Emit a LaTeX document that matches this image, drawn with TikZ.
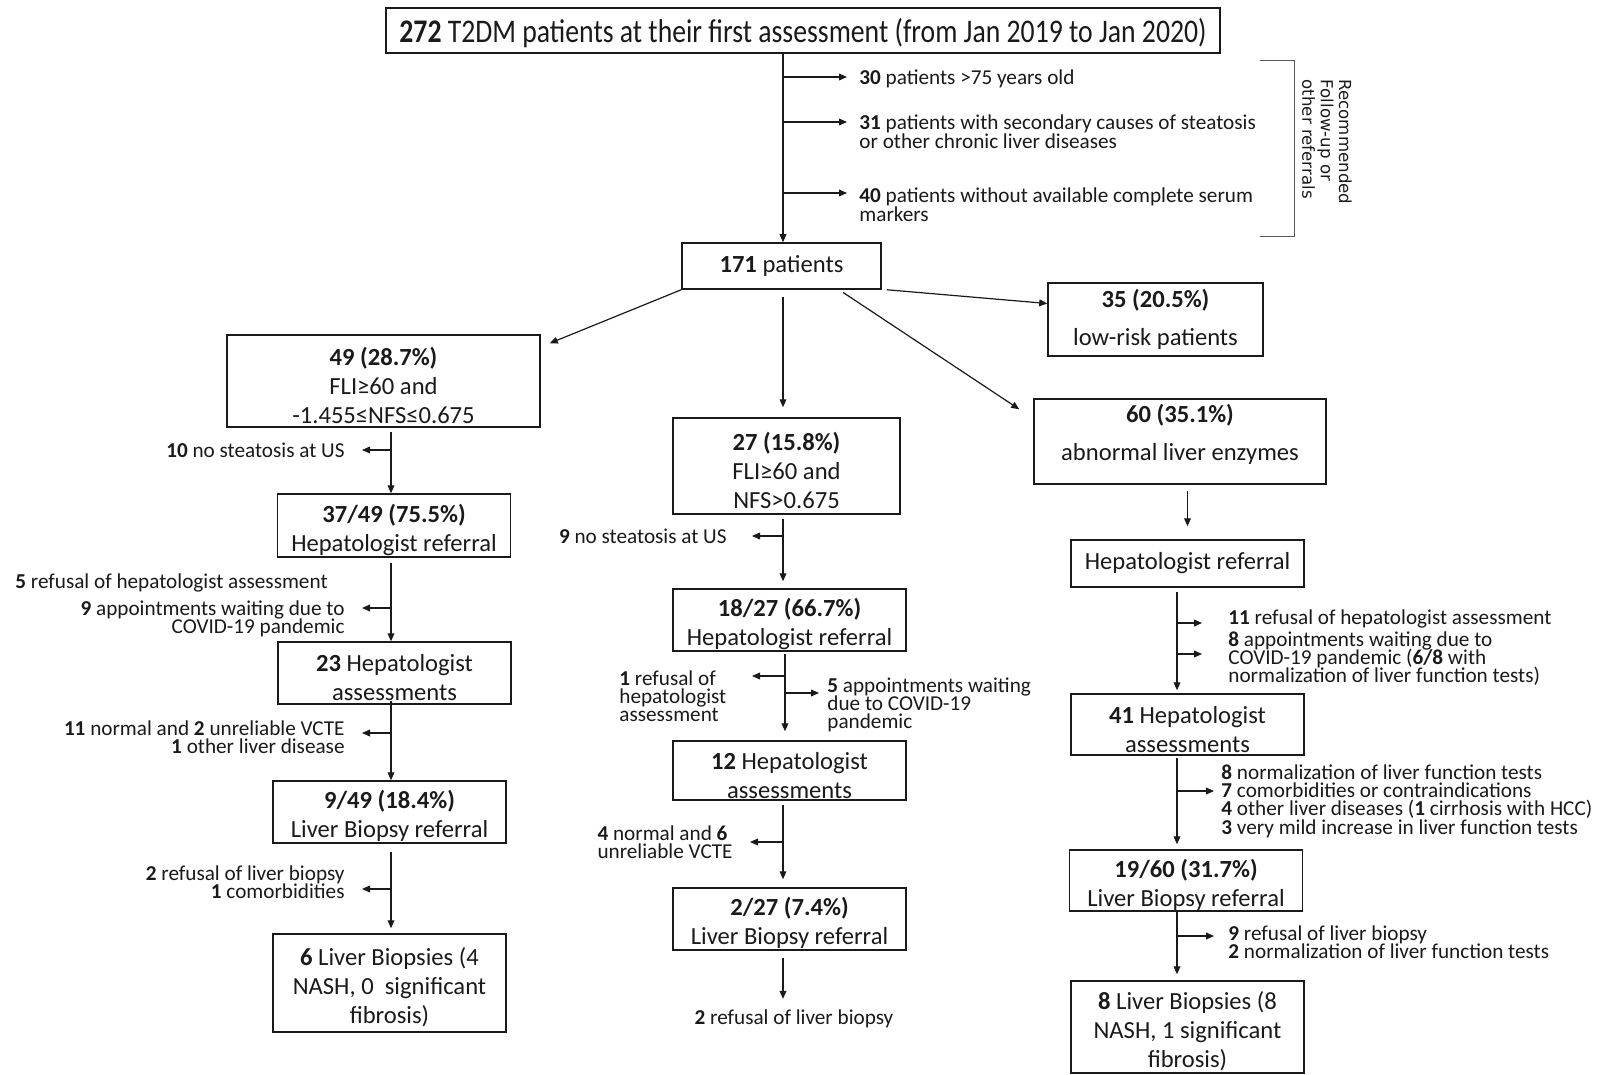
\documentclass[tikz,border=0pt]{standalone}
\usepackage{fontspec}
\setmainfont{Carlito}
\newfontfamily\topfont{Carlito}[FakeStretch=0.84]
\newfontfamily\rotfont{DejaVu Sans}
\usetikzlibrary{arrows.meta,calc}
\definecolor{ink}{HTML}{1A1A1A}
\newcommand{\upstrut}{\rule{0pt}{13.3pt}}
\tikzset{
 box/.style={draw=ink, line width=0.75pt, inner sep=0pt, align=center, font=\fontsize{12.3}{14.5}\selectfont, text=ink},
 wbox/.style={box, font=\fontsize{12.3}{19}\selectfont},
 side/.style={inner sep=0pt, font={\fontsize{10.6}{9.2}\selectfont\lineskiplimit=-100pt}, text=ink},
 arr/.style={draw=ink, line width=0.6pt, -{Triangle[length=4pt,width=3.4pt]}},
 bw/.style={minimum width=116.5pt},
}
\begin{document}
\begin{tikzpicture}[x=0.5pt,y=-0.5pt]
\useasboundingbox[fill=white] (0,0) rectangle (1600,1075);
% boxes
\node[box, minimum width=417pt, minimum height=22.5pt, font=\topfont\fontsize{16.5}{18}\selectfont] (top) at (803,30.5) {\rule{0pt}{14.4pt}\textbf{272} T2DM patients at their first assessment (from Jan 2019 to Jan 2020)};
\node[box, minimum width=99.5pt, minimum height=23pt] (p171) at (781.5,266) {\textbf{171} patients};
\node[wbox, minimum width=107.5pt, minimum height=36.5pt] (b35) at (1155.5,319.5) {\textbf{35 (20.5\%)}\\low-risk patients};
\node[wbox, minimum width=146pt, minimum height=42.5pt] (b60) at (1180,441.5) {\textbf{60 (35.1\%)}\\abnormal liver enzymes\rule[-9.5pt]{0pt}{0pt}};
\node[box, minimum width=156.5pt, minimum height=46pt] (b49) at (383.5,381) {\upstrut\textbf{49 (28.7\%)}\\FLI≥60 and\\-1.455≤NFS≤0.675};
\node[box, minimum width=113.5pt, minimum height=48pt] (b27) at (786.5,466) {\upstrut\textbf{27 (15.8\%)}\\FLI≥60 and\\NFS>0.675};
% left column
\node[box, bw, minimum height=31.5pt] (b37) at (394,525.5) {\upstrut\textbf{37/49 (75.5\%)}\\Hepatologist referral};
\node[box, bw, minimum height=31pt] (b23) at (394.5,673) {\upstrut\textbf{23} Hepatologist\\assessments};
\node[box, bw, minimum height=31pt] (b9) at (389.5,812) {\upstrut\textbf{9/49 (18.4\%)}\\Liver Biopsy referral};
\node[box, bw, minimum height=49pt] (b6) at (389.5,983) {\upstrut\textbf{6} Liver Biopsies (4\\NASH, 0~ significant\\fibrosis)};
% middle column
\node[box, bw, minimum height=31pt] (b18) at (789.5,620) {\upstrut\textbf{18/27 (66.7\%)}\\Hepatologist referral};
\node[box, bw, minimum height=29.5pt] (b12) at (789.5,770.5) {\upstrut\textbf{12} Hepatologist\\assessments};
\node[box, bw, minimum height=31pt] (b2) at (789.5,919) {\upstrut\textbf{2/27 (7.4\%)}\\Liver Biopsy referral};
% right column
\node[box, bw, minimum height=23.5pt] (bHR) at (1187.5,563.5) {Hepatologist referral};
\node[box, bw, minimum height=30.5pt] (b41) at (1187.5,724.5) {\upstrut\textbf{41} Hepatologist\\assessments};
\node[box, bw, minimum height=30.5pt] (b19) at (1186,880.5) {\upstrut\textbf{19/60 (31.7\%)}\\Liver Biopsy referral};
\node[box, bw, minimum height=46pt] (b8) at (1187.5,1027) {\upstrut\textbf{8} Liver Biopsies (8\\NASH, 1 significant\\fibrosis)};
% side texts (base anchor = baseline of the last line)
\node[side, anchor=base west, align=left] (t30) at (859,85) {\textbf{30} patients >75 years old};
\node[side, anchor=base west, align=left] (t31) at (859,148.4) {\textbf{31} patients with secondary causes of steatosis\\or other chronic liver diseases};
\node[side, anchor=base west, align=left] (t40) at (859,221.4) {\textbf{40} patients without available complete serum\\markers};
\node[side, anchor=base east, align=right] (t10) at (345,457) {\textbf{10} no steatosis at US};
\node[side, anchor=base west, align=left] (t5) at (15,588) {\textbf{5} refusal of hepatologist assessment};
\node[side, anchor=base east, align=right] (t9) at (345,633.4) {\textbf{9} appointments waiting due to\\COVID-19 pandemic};
\node[side, anchor=base east, align=right] (t11) at (345,753.4) {\textbf{11} normal and \textbf{2} unreliable VCTE\\\textbf{1} other liver disease};
\node[side, anchor=base east, align=right] (t2l) at (345,898.4) {\textbf{2} refusal of liver biopsy\\\textbf{1} comorbidities};
\node[side, anchor=base east, align=right] (t9m) at (727,543) {\textbf{9} no steatosis at US};
\node[side, anchor=base west, align=left] (t1) at (619,721.8) {\textbf{1} refusal of\\hepatologist\\assessment};
\node[side, anchor=base west, align=left] (t5m) at (827,728.8) {\textbf{5} appointments waiting\\due to COVID-19\\pandemic};
\node[side, anchor=base east, align=left] (t4) at (733,858.4) {\textbf{4} normal and \textbf{6}\\unreliable VCTE};
\node[side, anchor=base] (t2m) at (794,1024) {\textbf{2} refusal of liver biopsy};
\node[side, anchor=base west, align=left] (t11r) at (1228,624) {\textbf{11} refusal of hepatologist assessment};
\node[side, anchor=base west, align=left] (t8a) at (1228,682.8) {\textbf{8} appointments waiting due to\\COVID-19 pandemic (\textbf{6/8} with\\normalization of liver function tests)};
\node[side, anchor=base west, align=left] (t8b) at (1221,834.2) {\textbf{8} normalization of liver function tests\\\textbf{7} comorbidities or contraindications\\\textbf{4} other liver diseases (\textbf{1} cirrhosis with HCC)\\\textbf{3} very mild increase in liver function tests};
\node[side, anchor=base west, align=left] (t9r) at (1228,958.4) {\textbf{9} refusal of liver biopsy\\\textbf{2} normalization of liver function tests};
\node[rotate=-90, align=left, inner sep=0pt, text=ink, font=\rotfont\fontsize{8.3}{9.2}\selectfont] (rec) at (1327,142) {Recommended\\Follow-up or\\other referrals};
\draw[gray!70!black, line width=0.5pt] (1260,61) -- (1294,61) -- (1294,237) -- (1260,237);
% line x positions and arrow tips
\coordinate (lx) at (391,0);
\coordinate (mx) at (783,0);
\coordinate (mx2) at (785,0);
\coordinate (rx) at (1177,0);
\coordinate (c30) at (847,77);
\coordinate (c31) at (847,122);
\coordinate (c40) at (847,193);
\coordinate (a10) at (362,450);
\coordinate (a9) at (362,608);
\coordinate (a11) at (362,733);
\coordinate (a2) at (362,889);
\coordinate (a9m) at (752,536);
\coordinate (a1) at (752,676);
\coordinate (a5) at (819,693);
\coordinate (a4) at (750,842);
\coordinate (ar1) at (1202,623);
\coordinate (ar2) at (1202,654);
\coordinate (ar3) at (1214,791);
\coordinate (ar4) at (1214,936);
% top
\draw[arr] (top.south -| mx) -- (p171.north -| mx);
\draw[arr] (c30 -| mx) -- (c30);
\draw[arr] (c31 -| mx) -- (c31);
\draw[arr] (c40 -| mx) -- (c40);
% from 171
\draw[arr] (p171.south west) -- ([xshift=4.5pt,yshift=-4.5pt]b49.north east);
\draw[arr, shorten <=3.5pt, shorten >=5pt] (p171.south -| mx) -- (b27.north -| mx);
\draw[arr, shorten <=2.5pt] ([xshift=28.75pt]p171.south) -- ([xshift=-7pt,yshift=-5.5pt]b60.north west);
\draw[arr] ([xshift=2.5pt]p171.south east) -- ([yshift=8pt]b35.west);
% left column
\draw[arr, shorten <=2pt] (b49.south -| lx) -- (b37.north -| lx);
\draw[arr] (a10 -| lx) -- (a10);
\draw[arr, shorten <=2.5pt] (b37.south -| lx) -- (b23.north -| lx);
\draw[arr] (a9 -| lx) -- (a9);
\draw[arr, shorten <=-2pt] (b23.south -| lx) -- (b9.north -| lx);
\draw[arr] (a11 -| lx) -- (a11);
\draw[arr, shorten <=4pt, shorten >=2.5pt] (b9.south -| lx) -- (b6.north -| lx);
\draw[arr] (a2 -| lx) -- (a2);
% middle column
\draw[arr, shorten <=2pt, shorten >=3.5pt] (b27.south -| mx) -- (b18.north -| mx);
\draw[arr] (a9m -| mx) -- (a9m);
\draw[arr, shorten <=1pt, shorten >=4.5pt] (b18.south -| mx2) -- (b12.north -| mx2);
\draw[arr] (a1 -| mx2) -- (a1);
\draw[arr] (a5 -| mx2) -- (a5);
\draw[arr, shorten <=2pt, shorten >=4pt] (b12.south -| mx) -- (b2.north -| mx);
\draw[arr] (a4 -| mx) -- (a4);
\draw[arr, shorten <=3.5pt, shorten >=5pt] (b2.south -| mx) -- (t2m.north -| mx);
% right column
\draw[arr, shorten <=3pt, shorten >=6.5pt] (b60.south -| bHR.north) -- (bHR.north);
\draw[arr, shorten <=2pt, shorten >=1.5pt] (bHR.south -| rx) -- (b41.north -| rx);
\draw[arr] (ar1 -| rx) -- (ar1);
\draw[arr] (ar2 -| rx) -- (ar2);
\draw[arr, shorten <=1pt, shorten >=2.5pt] (b41.south -| rx) -- (b19.north -| rx);
\draw[arr] (ar3 -| rx) -- (ar3);
\draw[arr, shorten >=3pt] (b19.south -| rx) -- (b8.north -| rx);
\draw[arr] (ar4 -| rx) -- (ar4);
\end{tikzpicture}
\end{document}
